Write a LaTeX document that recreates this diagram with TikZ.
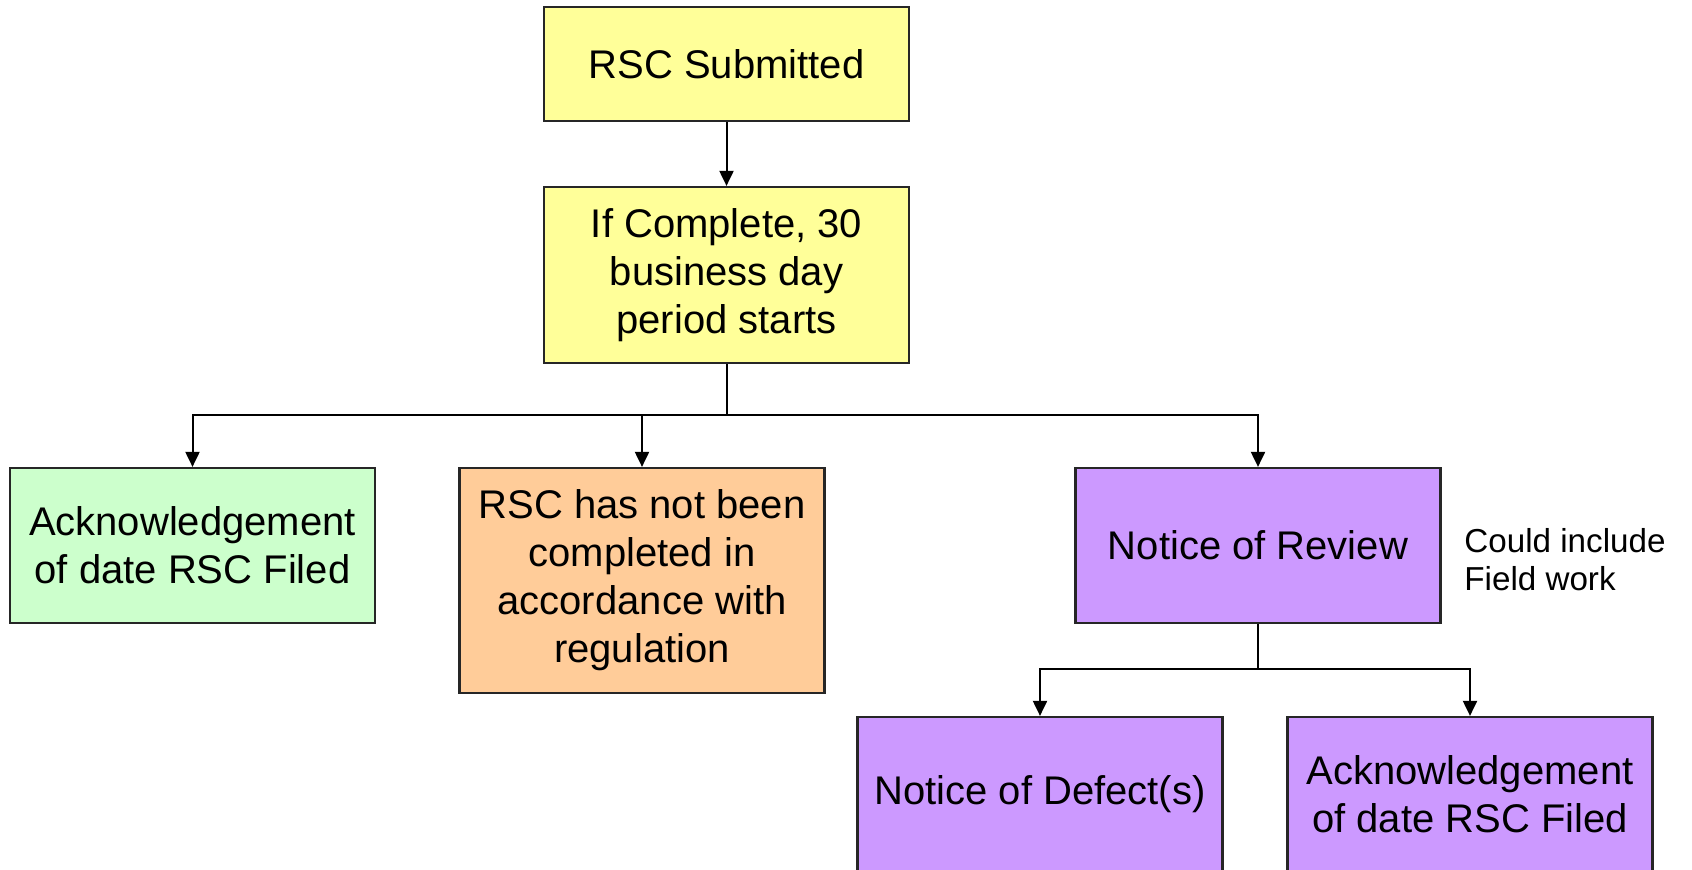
\documentclass[tikz,border=0pt]{standalone}
\usepackage{fontspec}
\setmainfont{Liberation Sans}
\usetikzlibrary{arrows.meta}
\definecolor{cyellow}{HTML}{FFFF99}
\definecolor{cgreen}{HTML}{CCFFCC}
\definecolor{corange}{HTML}{FFCC99}
\definecolor{cpurple}{HTML}{CC99FF}
\tikzset{
  box/.style={draw=black!85, line width=1.1pt, minimum width=182.5pt, align=center, inner sep=0pt,
    font=\fontsize{20pt}{24pt}\selectfont},
  conn/.style={line width=1pt, draw=black},
  arr/.style={conn, -{Triangle[length=7.5pt, width=7pt]}},
  note/.style={align=left, anchor=west, inner sep=0pt, font=\fontsize{16.6pt}{19pt}\selectfont}
}
\begin{document}
\begin{tikzpicture}[x=0.5pt, y=-0.5pt]
\useasboundingbox (0,0) rectangle (1692,870);
\node[box, fill=cyellow, minimum height=57pt] (sub) at (726.5,64) {RSC Submitted};
\node[box, fill=cyellow, minimum height=88pt] (comp) at (726.5,275) {If Complete, 30\\business day\\period starts};
\node[box, fill=cgreen, minimum height=77.5pt] (ack1) at (192.5,545.5) {Acknowledgement\\of date RSC Filed};
\node[box, fill=corange, minimum height=112.5pt] (reg) at (642,580.5) {RSC has not been\\completed in\\accordance with\\regulation};
\node[box, fill=cpurple, minimum height=77.5pt] (rev) at (1258,545.5) {Notice of Review};
\node[note] (could) at (1464,560) {Could include\\Field work};
\node[box, fill=cpurple, minimum height=77.5pt] (def) at (1040,794.5) {Notice of Defect(s)};
\node[box, fill=cpurple, minimum height=77.5pt] (ack2) at (1470,794.5) {Acknowledgement\\of date RSC Filed};
\coordinate (j1) at (726.5,415);
\coordinate (j2) at (1258,669);
\draw[arr] (sub.south) -- (comp.north);
\draw[conn] (comp.south) -- (j1);
\draw[arr] (j1) -| (ack1.north);
\draw[arr] (j1) -| (reg.north);
\draw[arr] (j1) -| (rev.north);
\draw[conn] (rev.south) -- (j2);
\draw[arr] (j2) -| (def.north);
\draw[arr] (j2) -| (ack2.north);
\end{tikzpicture}
\end{document}
